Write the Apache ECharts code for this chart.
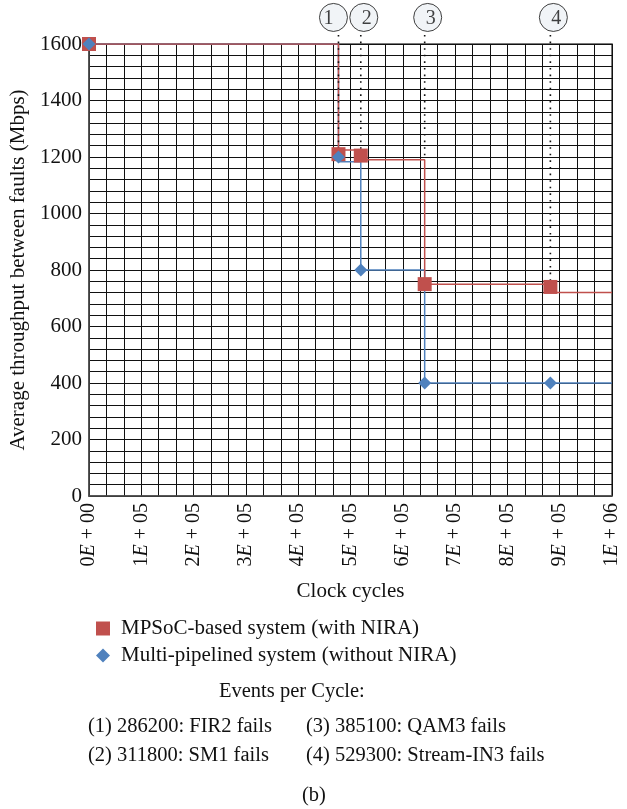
<!DOCTYPE html>
<html>
<head>
<meta charset="utf-8">
<script src="https://cdn.jsdelivr.net/npm/echarts@6/dist/echarts.min.js"></script>
<style>
  html, body { margin: 0; padding: 0; background: #ffffff; }
  #chart { width: 627px; height: 809px; }
</style>
</head>
<body>
<div id="chart"></div>
<script>
// Tick labels on the clock-cycle axis, one per major step
const xTickLabels = ['0E + 00', '1E + 05', '2E + 05', '3E + 05', '4E + 05', '5E + 05',
                     '6E + 05', '7E + 05', '8E + 05', '9E + 05', '1E + 06'];
const xMax = 600000;
const yTicks = [0, 200, 400, 600, 800, 1000, 1200, 1400, 1600];

// Fault events (clock cycle, failing block)
const eventCycles = [286200, 311800, 385100, 529300];
const eventNames = ['FIR2', 'SM1', 'QAM3', 'Stream-IN3'];

// MPSoC-based system (with NIRA): measured points and step trace
const niraPoints = [[0, 1600], [286200, 1210], [311800, 1205], [385100, 750], [529300, 740]];
const niraSteps = [[0, 1600], [286200, 1600], [286200, 1225], [311800, 1225], [311800, 1190],
                   [385100, 1190], [385100, 750], [529300, 750], [529300, 720], [600000, 720]];

// Multi-pipelined system (without NIRA): measured points and step trace
const pipePoints = [[0, 1600], [286200, 1200], [311800, 800], [385100, 400], [529300, 400]];
const pipeSteps = [[0, 1600], [286200, 1600], [286200, 1183], [311800, 1183], [311800, 800],
                   [385100, 800], [385100, 400], [600000, 400]];

// Event marker guides: top of the dotted line, bottom of each line, badge height
const guideTop = 1632;
const guideBottom = [1210, 1205, 1190, 740];
const badgeLevel = 1694;

const SERIF = '"Liberation Serif", "DejaVu Serif", serif';
const RED = '#C0504D';
const BLUE = '#4F81BD';
const GRID_LINE = '#111111';

const chart = echarts.init(document.getElementById('chart'), null, { renderer: 'canvas' });

const guideSeries = eventCycles.map((c, i) => ({
  type: 'line',
  data: [[c, guideTop], [c, guideBottom[i]]],
  symbol: 'none',
  clip: false,
  silent: true,
  z: 4,
  lineStyle: { color: '#111', width: 1.6, type: [1.6, 5] }
}));

const badgeOffsets = [[-5, 0], [3, 0], [3, 0], [3, 0]];

const option = {
  animation: false,
  backgroundColor: '#ffffff',
  textStyle: { fontFamily: SERIF },
  grid: {
    left: 89, top: 44, width: 523, height: 452,
    show: true, borderColor: '#4d4d4d', borderWidth: 1.5, backgroundColor: 'transparent'
  },
  xAxis: {
    type: 'value',
    min: 0, max: xMax, interval: xMax / 10,
    name: 'Clock cycles',
    nameLocation: 'middle',
    nameGap: 85,
    nameTextStyle: { fontFamily: SERIF, fontSize: 21, color: '#111' },
    axisLine: { show: true, lineStyle: { color: '#4d4d4d', width: 1.5 } },
    axisTick: { show: false },
    axisLabel: {
      rotate: 90,
      margin: 7,
      fontFamily: SERIF,
      fontSize: 20,
      color: '#111',
      formatter: v => {
        const t = xTickLabels[Math.round(v / (xMax / 10))];
        const p = t.split('E');
        return '{n|' + p[0] + '}{e|E}{n|' + p[1] + '}';
      },
      rich: {
        n: { fontFamily: SERIF, fontSize: 20, color: '#111' },
        e: { fontFamily: SERIF, fontSize: 20, fontStyle: 'italic', color: '#111' }
      }
    },
    splitLine: { show: true, lineStyle: { color: GRID_LINE, width: 1 } },
    minorTick: { show: false, splitNumber: 3 },
    minorSplitLine: { show: true, lineStyle: { color: GRID_LINE, width: 1 } }
  },
  yAxis: {
    type: 'value',
    min: 0, max: 1600, interval: 200,
    name: 'Average throughput between faults (Mbps)',
    nameLocation: 'middle',
    nameGap: 55,
    nameRotate: 90,
    nameTextStyle: { fontFamily: SERIF, fontSize: 21, color: '#111' },
    axisLine: { show: true, lineStyle: { color: '#4d4d4d', width: 1.5 } },
    axisTick: { show: false },
    axisLabel: {
      margin: 7, fontFamily: SERIF, fontSize: 21, color: '#111',
      formatter: v => (yTicks.indexOf(v) >= 0 ? String(v) : '')
    },
    splitLine: { show: true, lineStyle: { color: GRID_LINE, width: 1 } },
    minorTick: { show: false, splitNumber: 5 },
    minorSplitLine: { show: true, lineStyle: { color: GRID_LINE, width: 1 } }
  },
  legend: {
    orient: 'vertical',
    left: 91, top: 613,
    itemWidth: 14, itemHeight: 14, itemGap: 6,
    textStyle: { fontFamily: SERIF, fontSize: 21, color: '#111', padding: [0, 0, 0, 6] },
    data: [
      { name: 'MPSoC-based system (with NIRA)', icon: 'rect' },
      { name: 'Multi-pipelined system (without NIRA)', icon: 'diamond' }
    ]
  },
  graphic: [
    {
      type: 'text', left: 219, top: 681,
      style: { text: 'Events per Cycle:', font: '20.5px ' + SERIF, fill: '#111' }
    },
    ...eventCycles.map((c, i) => ({
      type: 'text',
      left: i < 2 ? 88 : 306,
      top: i % 2 === 0 ? 716 : 745,
      style: {
        text: '(' + (i + 1) + ') ' + c + ': ' + eventNames[i] + ' fails',
        font: '20.5px ' + SERIF, fill: '#111'
      }
    })),
    {
      type: 'text', left: 302, top: 785,
      style: { text: '(b)', font: '20.5px ' + SERIF, fill: '#111' }
    }
  ],
  series: [
    {
      name: 'Multi-pipelined system (without NIRA) trace',
      type: 'line', data: pipeSteps, symbol: 'none', z: 3,
      lineStyle: { color: BLUE, width: 1.5 }
    },
    {
      name: 'MPSoC-based system (with NIRA) trace',
      type: 'line', data: niraSteps, symbol: 'none', z: 4,
      lineStyle: { color: RED, width: 1.5 }
    },
    ...guideSeries,
    {
      name: 'MPSoC-based system (with NIRA)',
      type: 'scatter', data: niraPoints, symbol: 'rect', symbolSize: 14, z: 5, clip: false,
      itemStyle: { color: RED, opacity: 1 }
    },
    {
      name: 'Multi-pipelined system (without NIRA)',
      type: 'scatter', data: pipePoints, symbol: 'diamond', symbolSize: 13, z: 6, clip: false,
      itemStyle: { color: BLUE, opacity: 1 }
    },
    {
      name: 'events',
      type: 'scatter',
      clip: false,
      silent: true,
      z: 7,
      data: eventCycles.map((c, i) => ({
        value: [c, badgeLevel],
        symbolOffset: badgeOffsets[i],
        label: { offset: [badgeOffsets[i][0], 1] }
      })),
      symbol: 'circle',
      symbolSize: 28,
      itemStyle: { color: '#eef1f5', borderColor: '#111', borderWidth: 1 },
      label: {
        show: true, position: 'inside',
        formatter: p => String(p.dataIndex + 1),
        fontFamily: SERIF, fontSize: 20, color: '#111'
      }
    }
  ]
};

chart.setOption(option);
</script>
</body>
</html>
